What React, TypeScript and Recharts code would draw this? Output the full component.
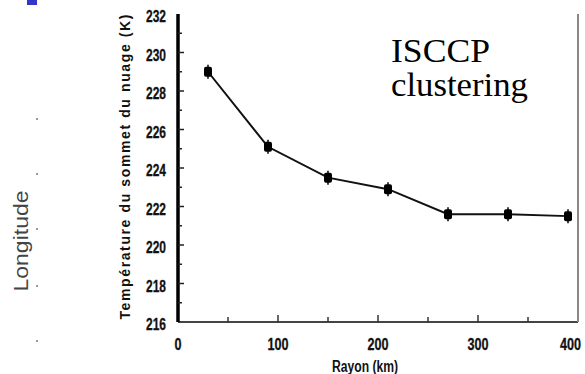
import React from "react";
import { LineChart, Line, XAxis, YAxis } from "recharts";

const rayons = [30, 90, 150, 210, 270, 330, 390];
const temperatures = [229.0, 225.1, 223.5, 222.9, 221.6, 221.6, 221.5];
const xTicks = [0, 50, 100, 150, 200, 250, 300, 350, 400];
const yTicks = [216, 217, 218, 219, 220, 221, 222, 223, 224, 225, 226, 227, 228, 229, 230, 231, 232];

const data = rayons.map((r, i) => ({ rayon: r, temp: temperatures[i] }));

const sans = "'Liberation Sans', Arial, sans-serif";
const serif = "'Liberation Serif', 'Times New Roman', serif";

const LeftTick = (props: any) => {
  const { x, y, payload } = props;
  const major = payload.value % 2 === 0;
  return (
    <g>
      {payload.value !== 216 && payload.value !== 232 && (
        <line x1={x} x2={x + (major ? 6 : 4)} y1={y} y2={y} stroke="#222" strokeWidth={1.5} />
      )}
      {major && (
        <text
          x={x - 12}
          y={y + 8}
          textAnchor="end"
          fontFamily={sans}
          fontWeight="bold"
          fontSize={16}
          textLength={20}
          lengthAdjust="spacingAndGlyphs"
          fill="#111"
          stroke="#111"
          strokeWidth={0.3}
        >
          {payload.value}
        </text>
      )}
    </g>
  );
};

const RightTick = (props: any) => {
  const { x, y, payload } = props;
  if (payload.value === 216 || payload.value === 232) return null;
  return <line x1={x} x2={x - 5} y1={y} y2={y} stroke="#777" strokeWidth={2} />;
};

const BottomTick = (props: any) => {
  const { x, y, payload } = props;
  const major = payload.value % 100 === 0;
  const label = String(payload.value);
  const last = payload.value === 400;
  return (
    <g>
      {payload.value !== 0 && payload.value !== 400 && (
        <line x1={x} x2={x} y1={y} y2={y - (major ? 7 : 5)} stroke="#333" strokeWidth={1.5} />
      )}
      {major && (
        <text
          x={last ? 581 : x}
          y={y + 28}
          textAnchor={last ? "end" : "middle"}
          fontFamily={sans}
          fontWeight="bold"
          fontSize={16}
          textLength={label.length * 7}
          lengthAdjust="spacingAndGlyphs"
          fill="#111"
          stroke="#111"
          strokeWidth={0.3}
        >
          {label}
        </text>
      )}
    </g>
  );
};

const TopTick = (props: any) => {
  const { x, y, payload } = props;
  if (payload.value === 0 || payload.value === 400) return null;
  return <line x1={x} x2={x} y1={y} y2={y + 6} stroke="#555" strokeWidth={1.5} />;
};

const Marker = (props: any) => {
  const { cx, cy } = props;
  if (cx == null || cy == null) return null;
  return (
    <g>
      <line x1={cx} x2={cx} y1={cy - 7} y2={cy + 7} stroke="#000" strokeWidth={1.5} />
      <rect x={cx - 4} y={cy - 5} width={8} height={10} rx={2} fill="#000" />
    </g>
  );
};

export default function App() {
  return (
    <div style={{ position: "absolute", left: 0, top: 0, width: 585, height: 374, background: "#fff", overflow: "hidden" }}>
      <LineChart width={585} height={374} data={data} margin={{ top: 14, right: 0, bottom: 0, left: 0 }}>
        <XAxis
          dataKey="rayon"
          type="number"
          domain={[0, 400]}
          ticks={xTicks}
          tick={<BottomTick />}
          tickLine={false}
          tickSize={0}
          tickMargin={0}
          stroke="#444"
          strokeWidth={2}
          height={52}
        />
        <XAxis
          xAxisId="top"
          orientation="top"
          type="number"
          domain={[0, 400]}
          ticks={xTicks}
          tick={<TopTick />}
          tickLine={false}
          tickSize={0}
          tickMargin={0}
          stroke="#888"
          strokeWidth={2}
          height={0}
        />
        <YAxis
          type="number"
          domain={[216, 232]}
          ticks={yTicks}
          tick={<LeftTick />}
          tickLine={false}
          tickSize={0}
          tickMargin={0}
          stroke="#000"
          strokeWidth={3.5}
          width={178}
          interval={0}
        />
        <YAxis
          yAxisId="right"
          orientation="right"
          type="number"
          domain={[216, 232]}
          ticks={yTicks}
          tick={<RightTick />}
          tickLine={false}
          tickSize={0}
          tickMargin={0}
          stroke="#888"
          strokeWidth={2}
          width={7}
          interval={0}
        />
        <Line
          dataKey="temp"
          type="linear"
          stroke="#111"
          strokeWidth={2}
          dot={<Marker />}
          activeDot={false}
          isAnimationActive={false}
        />
      </LineChart>

      <svg width={585} height={374} style={{ position: "absolute", left: 0, top: 0, pointerEvents: "none" }}>
        <rect x={27} y={0} width={10} height={5} fill="#3535c8" />
        {[118, 173, 228, 285, 340].map((t) => (
          <rect key={t} x={36} y={t} width={2} height={2} fill="#999" />
        ))}
        <text
          transform="translate(28, 241) rotate(-90)"
          textAnchor="middle"
          fontFamily={sans}
          fontSize={21}
          fill="#444"
          textLength={101}
          lengthAdjust="spacingAndGlyphs"
        >
          Longitude
        </text>
        <text
          transform="translate(130, 167) rotate(-90)"
          textAnchor="middle"
          fontFamily={sans}
          fontWeight="bold"
          fontSize={14}
          fill="#111"
          textLength={305}
          lengthAdjust="spacing"
        >
          Température du sommet du nuage (K)
        </text>
        <text
          x={365}
          y={372}
          textAnchor="middle"
          fontFamily={sans}
          fontWeight="bold"
          fontSize={16}
          fill="#111"
          textLength={66}
          lengthAdjust="spacingAndGlyphs"
        >
          Rayon (km)
        </text>
        <text x={391} y={62} fontFamily={serif} fontSize={33} fill="#000" textLength={99} lengthAdjust="spacingAndGlyphs">
          ISCCP
        </text>
        <text x={391} y={96} fontFamily={serif} fontSize={33} fill="#000" textLength={137} lengthAdjust="spacingAndGlyphs">
          clustering
        </text>
      </svg>
    </div>
  );
}
